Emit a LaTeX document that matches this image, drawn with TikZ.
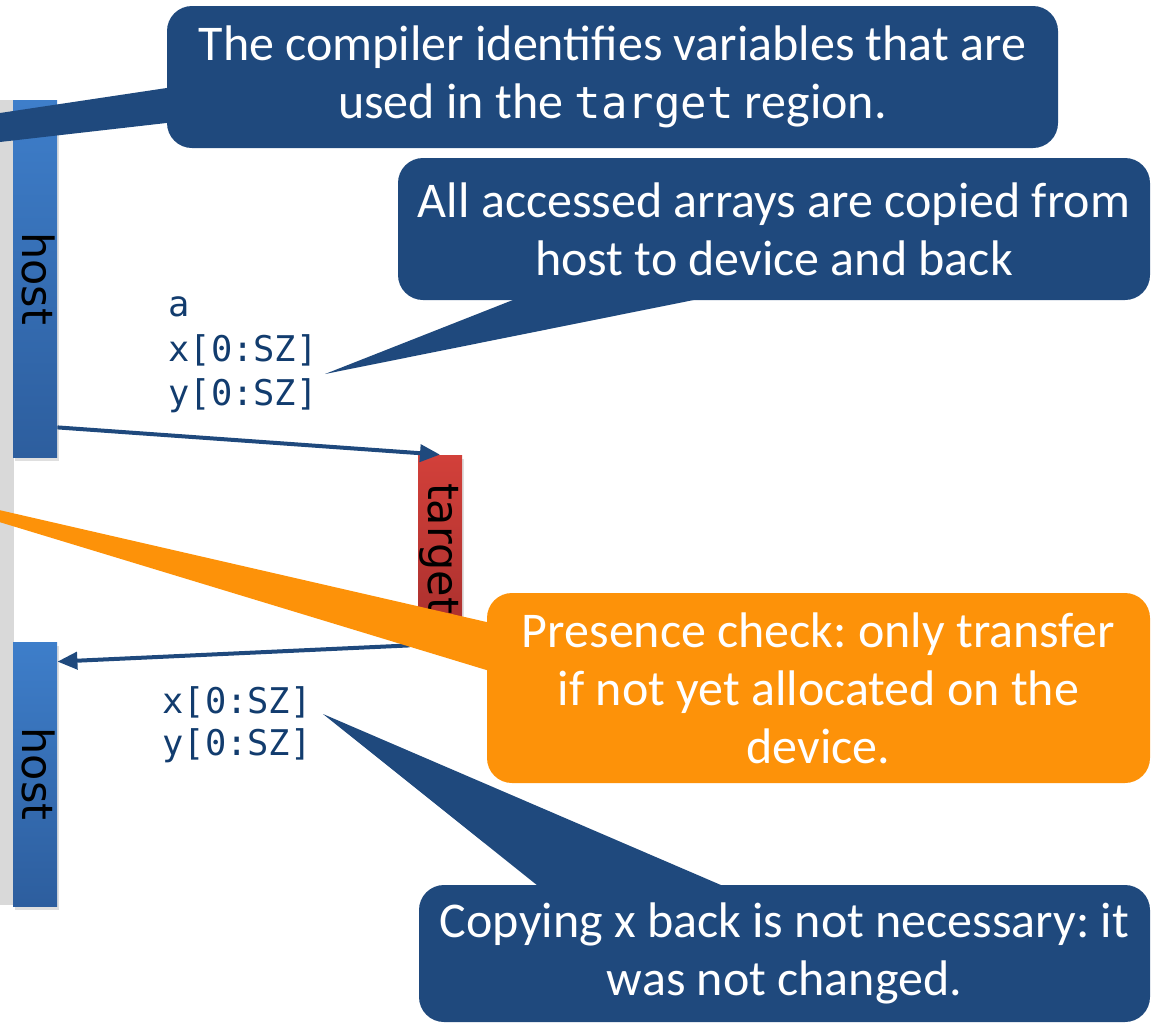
\documentclass[tikz,border=0pt]{standalone}
\usepackage{fontspec}
\setmainfont{Carlito}
\newfontfamily\codefont{DejaVu Sans Mono}
\newfontfamily\barfont{DejaVu Sans}
\usetikzlibrary{arrows.meta,shadows,calc}
\frenchspacing

\definecolor{calloutblue}{RGB}{31,73,125}
\definecolor{codeblue}{RGB}{18,60,110}
\definecolor{calloutorange}{RGB}{253,146,9}
\definecolor{stripgray}{RGB}{217,217,217}
\definecolor{hosttop}{RGB}{62,126,202}
\definecolor{hostbottom}{RGB}{45,94,158}
\definecolor{targettop}{RGB}{210,64,58}
\definecolor{targetbottom}{RGB}{168,47,45}

\tikzset{
  bar/.style={draw=none, minimum width=22pt, inner sep=0pt,
    drop shadow={shadow xshift=1pt, shadow yshift=-2pt, opacity=0.25}},
  hostbar/.style={bar, top color=hosttop, bottom color=hostbottom},
  targetbar/.style={bar, top color=targettop, bottom color=targetbottom},
  barlabel/.style={font=\barfont\fontsize{21.5}{24}\selectfont, rotate=-90,
    text=black, anchor=base, inner sep=0pt},
  code/.style={font=\codefont\fontsize{17.7}{21}\selectfont, text=codeblue,
    anchor=base west, inner sep=0pt},
  callout/.style={rounded corners=12.5pt, inner sep=0pt, align=center,
    text=white, font=\fontsize{25}{29}\selectfont},
  flow/.style={draw=calloutblue, line width=2pt,
    -{Triangle[length=10pt,width=8.5pt]}},
}

\begin{document}
\begin{tikzpicture}[x=0.5pt,y=-0.5pt]
  \clip (0,0) rectangle (1153,1024);

  % timeline strip
  \fill[stripgray] (0,100) rectangle (14,905);

  % host and device regions
  \node[hostbar, minimum height=178.5pt] (host1) at (35,278.5) {};
  \node[hostbar, minimum height=132pt] (host2) at (35,774) {};
  \node[targetbar, minimum height=93.5pt] (target) at (440,548.5) {};
  \node[barlabel] (host1lbl) at ($(host1.west)+(10,0)$) {host};
  \node[barlabel] (host2lbl) at ($(host2.west)+(10,0)$) {host};
  \node[barlabel] (targetlbl) at ($(target.west)+(11,0)$) {target};

  % transferred data
  \node[code] (inA) at (168,316) {a};
  \node[code] (inX) at (168,361) {x[0:SZ]};
  \node[code] (inY) at (168,405) {y[0:SZ]};
  \node[code] (outX) at (162,713) {x[0:SZ]};
  \node[code] (outY) at (162,755) {y[0:SZ]};

  % transfers
  \draw[flow] ($(host1.south east)+(0,-30)$) -- (target.north);
  \draw[flow] ($(target.south west)+(-8,3)$) -- ($(host2.north east)+(0,20)$);

  % callout: variables used in the region
  \node[callout, fill=calloutblue, minimum width=445.5pt, minimum height=71pt]
    (note1) at (612.5,77)
    {The compiler identifies variables that are\\
     used in the {\codefont\fontsize{22}{29}\selectfont target} region.};
  \fill[calloutblue] (190,84.5) -- (-30,117.5) -- (-30,145.4) -- (190,120.3) -- cycle;

  % callout: arrays copied both ways
  \node[callout, fill=calloutblue, minimum width=376pt, minimum height=71pt]
    (note2) at (774,229)
    {All accessed arrays are copied from\\host to device and back};
  \coordinate (tip2) at (325,374);
  \fill[calloutblue] ($(note2.south west)+(127,-5)$) -- (tip2)
    -- ($(note2.south west)+(319,-5)$) -- cycle;

  % callout: x need not come back
  \node[callout, fill=calloutblue, minimum width=365.5pt, minimum height=68.5pt]
    (note4) at (784.5,953.5)
    {Copying x back is not necessary: it\\was not changed.};
  \coordinate (tip4) at (323,714);
  \fill[calloutblue] ($(note4.north west)+(124,5)$) -- (tip4)
    -- ($(note4.north west)+(313,5)$) -- cycle;

  % callout: presence check
  \node[callout, fill=calloutorange, minimum width=331.5pt, minimum height=95pt]
    (note3) at (818.5,688)
    {Presence check: only transfer\\if not yet allocated on the\\device.};
  \coordinate (tip3) at (-162,473);
  \fill[calloutorange] (tip3) -- ($(note3.west)+(13,-63)$)
    -- ($(note3.west)+(13,-14)$) -- cycle;
\end{tikzpicture}
\end{document}
